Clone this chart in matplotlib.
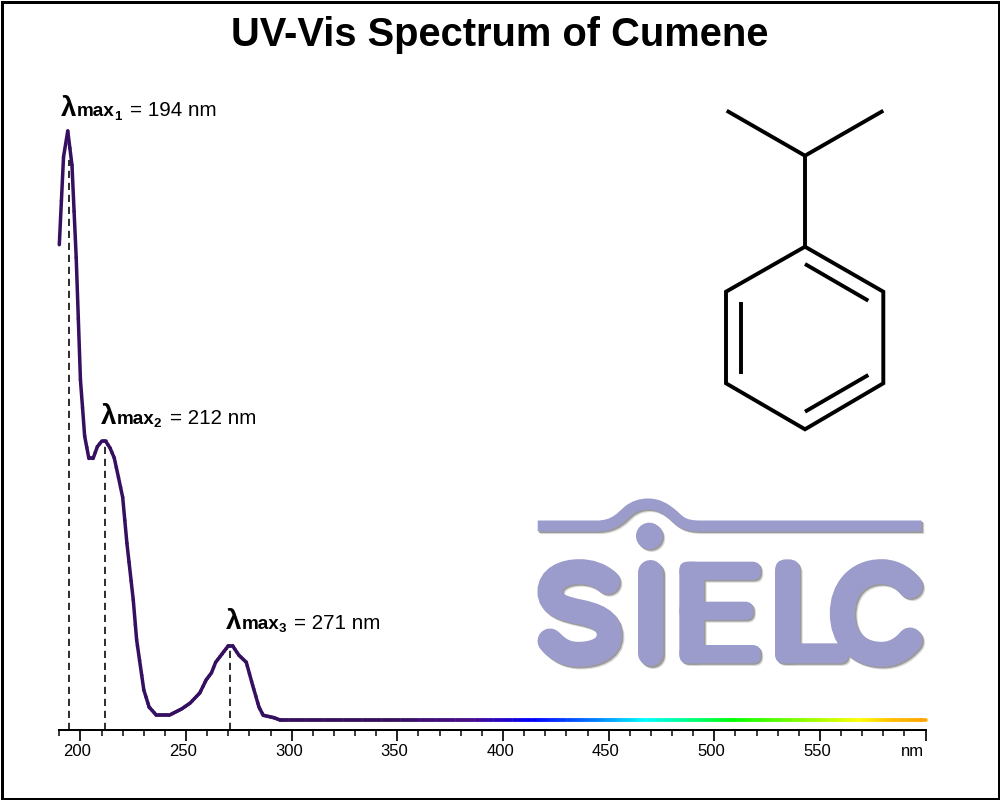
import numpy as np
import matplotlib
matplotlib.use('Agg')
import matplotlib.pyplot as plt
from matplotlib.collections import LineCollection
from matplotlib.colors import LinearSegmentedColormap
from matplotlib.patches import Circle, FancyBboxPatch, PathPatch, Rectangle
from matplotlib.path import Path
from matplotlib.transforms import Affine2D, ScaledTranslation

plt.rcParams['font.family'] = ['Liberation Sans', 'DejaVu Sans']

# spectrum, absorbance scaled so the top peak is about 1
wavelengths = [190, 192, 194, 196, 198, 200, 202, 204, 206, 208, 210, 212, 214, 216, 218, 220, 222, 225,
               226.6, 230, 232.5, 236, 242, 248, 252, 256.5, 259.5, 262, 264, 270, 272, 275, 278.5, 281.5,
               284.5, 286.5, 291.5, 294.5, 300, 350, 400, 450, 500, 550, 600]
absorbance = [0.807, 0.956, 1.0, 0.942, 0.785, 0.578, 0.482, 0.444, 0.444, 0.464, 0.473, 0.473, 0.462, 0.445,
              0.412, 0.378, 0.300, 0.204, 0.136, 0.051, 0.022, 0.008, 0.008, 0.019, 0.029, 0.046, 0.068, 0.080,
              0.098, 0.126, 0.126, 0.110, 0.098, 0.059, 0.022, 0.008, 0.004, 0.0, 0.0, 0.0, 0.0, 0.0, 0.0, 0.0, 0.0]

peak_labels = ['1', '2', '3']
peak_values = [194, 212, 271]
peak_lines = [194.6, 211.7, 271]
peak_heights = [0.95, 0.473, 0.126]

major_ticks = [200, 250, 300, 350, 400, 450, 500, 550, 600]
major_labels = ['200', '250', '300', '350', '400', '450', '500', '550', '']

# colour of the trace along the wavelength axis
color_nm = [190, 350, 385, 415, 445, 468, 490, 510, 540, 570, 585, 600]
color_hex = ['#361060', '#361060', '#4a0c8c', '#0000ff', '#0080ff', '#00ffff', '#00ff80', '#00ff00',
             '#80ff00', '#ffff00', '#ffc000', '#ffa500']

# cumene skeleton, in pixels
bonds = [[(726.7, 110.7), (805, 155.7), (883.3, 110.7)],
         [(805, 155.7), (805, 246.7)],
         [(805, 246.7), (883.3, 291.7), (883.3, 383.3), (805, 429.3), (726, 383.3), (726, 291.7), (805, 246.7)],
         [(805, 264), (868.3, 300.7)],
         [(740.7, 301.7), (740.7, 374.3)],
         [(805, 411.7), (868.3, 375)]]

LOGO = '#9c9ccc'
px = 0.72  # one pixel in points at dpi 100

fig = plt.figure(figsize=(10, 8), dpi=100)

# axes: 190-600 nm over px 59.3-925.6, absorbance 0 at py 720, 1 at py 131, bottom spine py 730
ax = fig.add_axes([59.3 / 1000, (800 - 730) / 800, (925.6 - 59.3) / 1000, 630 / 800])
ax.set_xlim(190, 600)
ax.set_ylim(-10 / 589, 620 / 589)
ax.patch.set_alpha(0)
for side in ['top', 'left', 'right']:
    ax.spines[side].set_visible(False)
ax.spines['bottom'].set_linewidth(2 * px)
ax.set_yticks([])
ax.set_xticks(major_ticks)
ax.set_xticklabels(major_labels, fontsize=12)
ax.set_xticks(np.arange(190, 600, 10), minor=True)
ax.tick_params(axis='x', which='major', length=11 * px, width=1.7 * px, pad=2.5)
ax.tick_params(axis='x', which='minor', length=5.5 * px, width=1.5 * px)
shift = ScaledTranslation(-3 / 100, 0, fig.dpi_scale_trans)
for lab in ax.get_xticklabels():
    lab.set_transform(lab.get_transform() + shift)

ax.vlines(peak_lines, -10 / 589, peak_heights, color='black', lw=1.6 * px,
          linestyles=(0, (4.5, 3)), zorder=1)

# extra points only split the line into short pieces so the colour runs smoothly
fine_x = np.union1d(wavelengths, np.arange(190, 600.5, 1))
fine_y = np.interp(fine_x, wavelengths, absorbance)
pts = np.column_stack([fine_x, fine_y]).reshape(-1, 1, 2)
segs = np.concatenate([pts[:-1], pts[1:]], axis=1)
cmap = LinearSegmentedColormap.from_list(
    'spectrum', [((n - 190) / 410, c) for n, c in zip(color_nm, color_hex)])
lc = LineCollection(segs, array=(fine_x[:-1] + fine_x[1:]) / 2, cmap=cmap, clim=(190, 600),
                    linewidth=3.5 * px, capstyle='round', joinstyle='round', zorder=2, clip_on=False)
ax.add_collection(lc)

# pixel overlay for the frame, structure, logo and labels
deco = fig.add_axes([0, 0, 1, 1])
deco.set_xlim(0, 1000)
deco.set_ylim(800, 0)
deco.axis('off')
deco.patch.set_alpha(0)

deco.add_patch(Rectangle((1.5, 1.5), 997, 797, fill=False, ec='black', lw=3 * px))

for bond in bonds:
    xs, ys = zip(*bond)
    deco.plot(xs, ys, color='black', lw=3.9 * px, solid_capstyle='butt', solid_joinstyle='miter')


# logo coordinates come from a 3x zoom: px = 520 + xz / 3, py = 480 + yz / 3
def zx(v):
    return 520 + v / 3


def zy(v):
    return 480 + v / 3


def curve(dx, dy, points):
    codes = [Path.MOVETO] + [Path.CURVE4] * (len(points) - 1)
    return Path([(zx(a) + dx, zy(b) + dy) for a, b in points], codes)


s_pts = [(262, 305), (240, 285), (210, 275), (178, 275), (130, 275), (90, 295), (90, 335),
         (90, 375), (130, 385), (175, 395), (225, 405), (268, 420), (268, 465),
         (268, 505), (225, 523), (175, 523), (140, 523), (115, 510), (90, 483)]
c_pts = [(1170, 318), (1145, 285), (1110, 275), (1085, 275), (1010, 275), (967, 330), (967, 400),
         (967, 470), (1010, 523), (1085, 523), (1115, 523), (1145, 510), (1170, 480)]
boxes = [(478, 245, 552, 550), (478, 245, 722, 300), (478, 365, 700, 420), (478, 495, 722, 550),
         (765, 238, 840, 550), (765, 490, 985, 550)]
wave = Path([(537.7, 526), (597, 526), (615, 526), (622, 516), (628, 511), (634, 506), (641, 504), (648, 504),
             (658, 504), (665, 508), (673, 515), (680, 522), (685, 526), (700, 526), (921.7, 526)],
            [Path.MOVETO, Path.LINETO] + [Path.CURVE4] * 12 + [Path.LINETO])

for dx, dy, col in [(2.6, 2.6, '#d8d8d8'), (1.5, 1.5, '#9a9a9a'), (0, 0, LOGO)]:
    deco.add_patch(PathPatch(wave.transformed(Affine2D().translate(dx, dy)),
                             fill=False, ec=col, lw=11 * px, capstyle='butt'))
    deco.add_patch(Circle((649.3 + dx, 536 + dy), 13.3, fc=col, ec='none'))
    deco.plot([650 + dx, 650 + dx], [572 + dy, 653.3 + dy], color=col, lw=25 * px, solid_capstyle='round')
    for pts_ in (s_pts, c_pts):
        deco.add_patch(PathPatch(curve(dx, dy, pts_), fill=False, ec=col, lw=25 * px, capstyle='round'))
    for x0, y0, x1, y1 in boxes:
        r = min(y1 - y0, x1 - x0) / 3 * 0.45
        deco.add_patch(FancyBboxPatch((zx(x0) + r + dx, zy(y0) + r + dy),
                                      (x1 - x0) / 3 - 2 * r, (y1 - y0) / 3 - 2 * r,
                                      boxstyle='round,pad=%f,rounding_size=%f' % (r, r), fc=col, ec='none'))

# lambda max labels built from pieces, since the original mixes sizes and weights
label_x = [61, 101, 226]
label_y = [116.5, 424, 629]
for tag, val, x0, y0 in zip(peak_labels, peak_values, label_x, label_y):
    deco.text(x0, y0, '\u03bb', fontsize=20, fontweight='bold', ha='left', va='baseline')
    deco.text(x0 + 15.5, y0, 'max', fontsize=13.6, fontweight='bold', ha='left', va='baseline')
    deco.text(x0 + 53, y0 + 3, tag, fontsize=9.5, fontweight='bold', ha='left', va='baseline')
    deco.text(x0 + 68.5, y0, '= %d nm' % val, fontsize=14.9, ha='left', va='baseline')

deco.text(924.5, 755.5, 'nm', fontsize=12, ha='right', va='baseline')
fig.text(0.5, 1 - 45.5 / 800, 'UV-Vis Spectrum of Cumene', fontsize=28.7, fontweight='bold',
         ha='center', va='baseline')

fig.savefig('out.png', dpi=100)
